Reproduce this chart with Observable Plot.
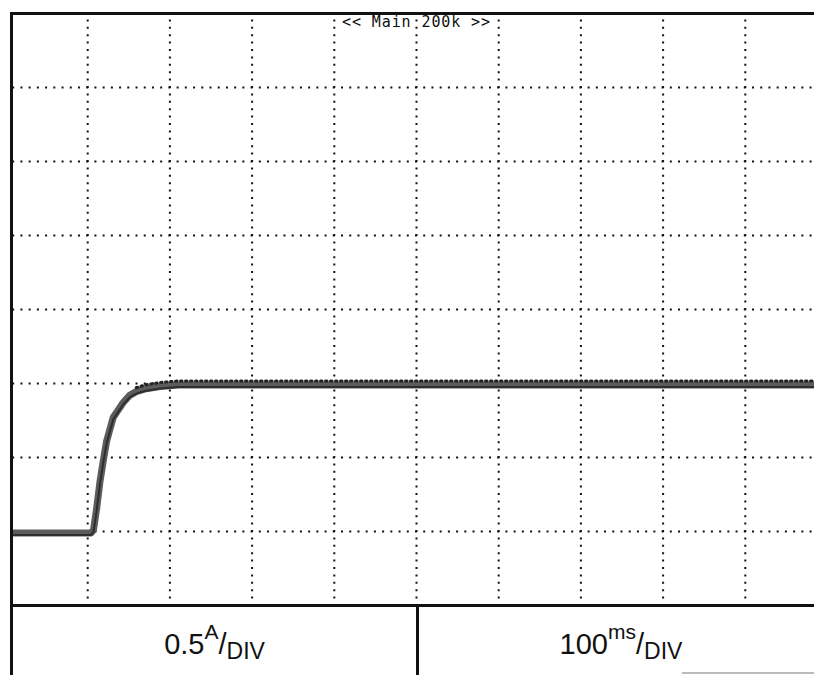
<!DOCTYPE html>
<html>
<head>
<meta charset="utf-8">
<script src="https://cdn.jsdelivr.net/npm/d3@7"></script>
<script src="https://cdn.jsdelivr.net/npm/@observablehq/plot@0.6"></script>
<style>
  html, body { margin: 0; padding: 0; background: #fff; }
  #wrap { position: relative; width: 814px; height: 675px; overflow: hidden; background: #fff; }
  #chart { position: absolute; left: 0; top: 0; }
  .border { position: absolute; background: #111; }
  .cell { position: absolute; top: 606px; height: 69px; font-family: "Liberation Sans", Arial, sans-serif; font-size: 29px; color: #111; }
  .lbl { position: absolute; left: 50%; top: 24px; line-height: 29px; white-space: nowrap; transform: translateX(-50%); }
  .sup { font-size: 21px; position: relative; top: -15px; line-height: 0; }
  .sub { font-size: 23px; position: relative; top: 5px; line-height: 0; }
</style>
</head>
<body>
<div id="wrap">
  <div id="chart"></div>
  <div style="position:absolute;left:0;top:0;width:10px;height:675px;background:#fff"></div>
  <div class="border" style="left:10px;top:12px;width:3px;height:663px"></div>
  <div class="border" style="left:416px;top:604px;width:3px;height:71px"></div>
  <div style="position:absolute;left:682px;top:672px;width:132px;height:2px;background:#bbb"></div>
  <div class="cell" id="cellA" style="left:13px;width:403px"></div>
  <div class="cell" id="cellT" style="left:419px;width:404px"></div>
</div>
<script>
// Oscilloscope settings
const ampsPerDiv = "0.5", ampsUnit = "A";
const timePerDiv = "100", timeUnit = "ms";
const divLabel = "DIV";
const topLabel = "<< Main 200k >>";
const topLabelTime = 500;

// Screen grid (10 x 8 divisions)
const timeDomain = [0, 1000];      // ms
const ampDomain = [-0.5, 3.5];     // A
const gridTimes = [100, 200, 300, 400, 500, 600, 700, 800, 900];
const gridAmps = [0, 0.5, 1, 1.5, 2, 2.5, 3];

// Captured current trace
const traceTime = [10, 40, 70, 100, 104, 107, 111, 115, 119, 123, 127, 131, 137, 143, 151, 159, 171, 188, 210, 260, 400, 600, 800, 1000];
const traceAmps = [-0.01, -0.01, -0.01, -0.01, -0.01, 0.01, 0.16, 0.34, 0.48, 0.61, 0.69, 0.77, 0.82, 0.87, 0.92, 0.945, 0.965, 0.98, 0.99, 0.99, 0.99, 0.99, 0.99, 0.99];

const trace = traceTime.map((t, i) => ({t, a: traceAmps[i]}));
const plateau = trace.filter(d => d.t >= 159);

const svg = Plot.plot({
  width: 814,
  height: 607,
  margin: 0,
  marginTop: 13,
  marginBottom: 2,
  marginLeft: 12,
  marginRight: 0,
  x: {domain: timeDomain, range: [5, 827], axis: null},
  y: {domain: ampDomain, range: [605, 13], axis: null},
  marks: [
    Plot.ruleY(gridAmps, {x1: timeDomain[0], x2: timeDomain[1], stroke: "#111", strokeWidth: 2, strokeDasharray: "2,6.22", strokeDashoffset: 1}),
    Plot.ruleX(gridTimes, {y1: ampDomain[0], y2: ampDomain[1], stroke: "#111", strokeWidth: 2, strokeDasharray: "2,5.4", strokeDashoffset: 1}),
    Plot.ruleY([ampDomain[1]], {stroke: "#111", strokeWidth: 3}),
    Plot.ruleY([ampDomain[0]], {stroke: "#111", strokeWidth: 3}),
    Plot.text([topLabel], {x: [topLabelTime], frameAnchor: "top", lineAnchor: "top", dy: 3, text: d => d, fontFamily: "DejaVu Sans Mono", fontSize: 15, fill: "#111"}),
    Plot.line(trace, {x: "t", y: "a", stroke: "#5c5c5c", strokeWidth: 7}),
    Plot.line(trace, {x: "t", y: "a", stroke: "#2e2e2e", strokeWidth: 2, dy: 2}),
    Plot.line(plateau, {x: "t", y: "a", stroke: "#222", strokeWidth: 3, strokeDasharray: "1.5,3.5", dy: -4})
  ]
});
d3.select(svg).selectAll("text").style("letter-spacing", "0.9px");
document.getElementById("chart").appendChild(svg);

function label(value, unit) {
  return `<span class="lbl">${value}<span class="sup">${unit}</span>/<span class="sub">${divLabel}</span></span>`;
}
document.getElementById("cellA").innerHTML = label(ampsPerDiv, ampsUnit);
document.getElementById("cellT").innerHTML = label(timePerDiv, timeUnit);
</script>
</body>
</html>
